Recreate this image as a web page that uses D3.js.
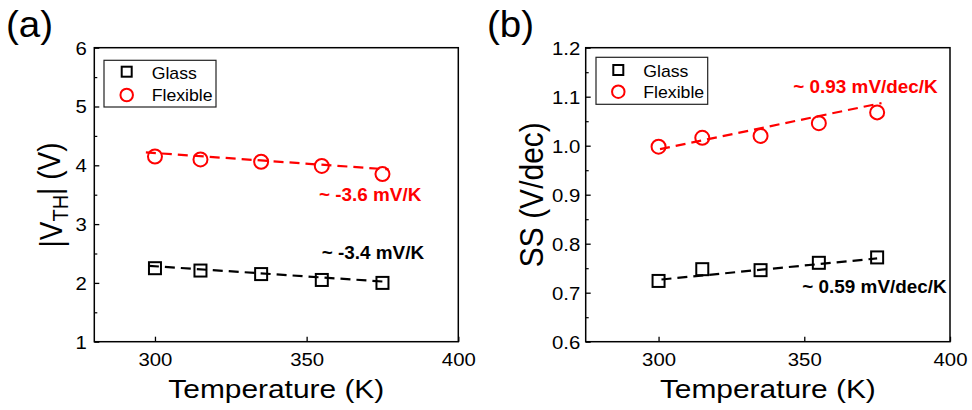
<!DOCTYPE html>
<html><head><meta charset="utf-8">
<script src="https://cdn.jsdelivr.net/npm/d3@7"></script>
<style>
body{margin:0;background:#fff;}
svg{display:block;font-family:"Liberation Sans",Arial,Helvetica,sans-serif;}
</style>
</head><body>
<svg id="c" width="972" height="410"></svg>
<script>
// ---------------- data ----------------
const temps = [300, 315, 335, 355, 375];
const vthGlass = [2.25, 2.21, 2.15, 2.05, 2.00];
const vthFlex  = [4.15, 4.10, 4.06, 3.99, 3.85];
const ssGlass  = [0.724, 0.748, 0.746, 0.761, 0.772];
const ssFlex   = [0.998, 1.016, 1.020, 1.046, 1.068];
// linear-fit segments [temperature, value]
const fitVthGlass = [[298, 2.29], [376, 2.02]];
const fitVthFlex  = [[297, 4.22], [377, 3.93]];
const fitSsGlass  = [[301, 0.727], [375, 0.770]];
const fitSsFlex   = [[300.5, 0.993], [376.5, 1.087]];
// ticks
const xTicks = [300, 350, 400];
const yTicksA = [1, 2, 3, 4, 5, 6];
const yMinorA = [1.5, 2.5, 3.5, 4.5, 5.5];
const yTicksB = [0.6, 0.7, 0.8, 0.9, 1.0, 1.1, 1.2];
const yMinorB = [0.65, 0.75, 0.85, 0.95, 1.05, 1.15];
// labels
const seriesNames = ["Glass", "Flexible"];
const slopeA = ["~ -3.4 mV/K", "~ -3.6 mV/K"];
const slopeB = ["~ 0.59 mV/dec/K", "~ 0.93 mV/dec/K"];
const RED = "#ff0000";

// ---------------- drawing ----------------
const svg = d3.select("#c");

function txt(g, s, x, y, o) {
  o = o || {};
  const t = g.append("text")
    .attr("transform", `translate(${x},${y}) scale(${o.sx || 1},1)` + (o.rot ? ` rotate(${o.rot})` : ""))
    .attr("text-anchor", o.anchor || "start")
    .style("font-size", (o.size || 18) + "px")
    .style("font-weight", o.weight || "normal")
    .attr("fill", o.fill || "#000");
  if (s != null) t.text(s);
  return t;
}

function marker(g, type, cx, cy, size, color) {
  if (type === "square") {
    g.append("rect").attr("x", cx - size / 2).attr("y", cy - size / 2)
      .attr("width", size).attr("height", size)
      .attr("fill", "none").attr("stroke", color).attr("stroke-width", 2);
  } else {
    g.append("circle").attr("cx", cx).attr("cy", cy).attr("r", size / 2)
      .attr("fill", "none").attr("stroke", color).attr("stroke-width", 2);
  }
}

function panel(cfg) {
  const x = d3.scaleLinear().domain(cfg.xDomain).range([cfg.left, cfg.right]);
  const y = d3.scaleLinear().domain(cfg.yDomain).range([cfg.bottom, cfg.top]);
  const g = svg.append("g");

  // x axis
  const xa = g.append("g").attr("transform", `translate(0,${cfg.bottom})`)
    .call(d3.axisBottom(x).tickValues(xTicks).tickSizeInner(-5).tickSizeOuter(0).tickPadding(0));
  xa.attr("font-size", null).attr("font-family", null);
  xa.select(".domain").remove();
  xa.selectAll(".tick line").attr("stroke", "#000").attr("stroke-width", 1.3);
  xa.selectAll(".tick text").attr("y", 24).attr("dy", 0)
    .attr("transform", "scale(1.1,1)").style("font-size", "18.5px").attr("fill", "#000");

  // y axis (major)
  const ya = g.append("g").attr("transform", `translate(${cfg.left},0)`)
    .call(d3.axisLeft(y).tickValues(cfg.yTicks).tickFormat(d3.format(cfg.yFmt))
      .tickSizeInner(-5).tickSizeOuter(0).tickPadding(0));
  ya.attr("font-size", null).attr("font-family", null);
  ya.select(".domain").remove();
  ya.selectAll(".tick line").attr("stroke", "#000").attr("stroke-width", 1.3);
  ya.selectAll(".tick text").attr("x", -cfg.yLabGap / 1.1).attr("dy", "0.34em")
    .attr("transform", "scale(1.1,1)").style("font-size", "18.5px").attr("fill", "#000");
  // y axis (minor)
  const ym = g.append("g").attr("transform", `translate(${cfg.left},0)`)
    .call(d3.axisLeft(y).tickValues(cfg.yMinor).tickFormat("").tickSizeInner(-3).tickSizeOuter(0));
  ym.select(".domain").remove();
  ym.selectAll(".tick line").attr("stroke", "#000").attr("stroke-width", 1.2);

  // frame
  g.append("rect").attr("x", cfg.left).attr("y", cfg.top)
    .attr("width", cfg.right - cfg.left).attr("height", cfg.bottom - cfg.top)
    .attr("fill", "none").attr("stroke", "#000").attr("stroke-width", 1.5);

  // fits
  const line = d3.line().x(d => x(d[0])).y(d => y(d[1]));
  cfg.series.forEach(s => {
    g.append("path").attr("d", line(s.fit)).attr("fill", "none")
      .attr("stroke", s.color).attr("stroke-width", 2.2).attr("stroke-dasharray", "10,6");
  });
  // markers
  cfg.series.forEach(s => {
    temps.forEach((t, i) => marker(g, s.shape, x(t), y(s.values[i]), s.shape === "square" ? 12 : 14, s.color));
  });

  // legend
  const L = cfg.legend;
  g.append("rect").attr("x", L.x0).attr("y", L.y0).attr("width", L.x1 - L.x0).attr("height", L.y1 - L.y0)
    .attr("fill", "#fff").attr("stroke", "#222").attr("stroke-width", 1.2);
  cfg.series.forEach((s, i) => {
    marker(g, s.shape, L.mx, L.my[i], s.shape === "square" ? 10 : 12.5, s.color);
    txt(g, seriesNames[i], L.tx, L.ty[i], {size: 17, sx: 1.04});
  });

  // slope annotations
  cfg.series.forEach((s, i) => {
    txt(g, cfg.slopes[i], cfg.annot[i][0], cfg.annot[i][1],
      {size: 17.5, sx: 1.08, weight: "bold", fill: s.color});
  });

  // axis titles
  txt(g, "Temperature (K)", (cfg.left + cfg.right) / 2, 398, {size: 26, sx: 1.15, anchor: "middle"});
  cfg.yTitle(g);
  // panel label
  txt(g, cfg.label, cfg.labelX, 37, {size: 36, sx: 1.07});
}

panel({
  left: 94.3, right: 458.3, top: 47.7, bottom: 341.7,
  xDomain: [280, 400], yDomain: [1, 6],
  yTicks: yTicksA, yMinor: yMinorA, yFmt: "d", yLabGap: 7.5,
  series: [
    {shape: "square", color: "#000", values: vthGlass, fit: fitVthGlass},
    {shape: "circle", color: RED, values: vthFlex, fit: fitVthFlex}
  ],
  legend: {x0: 104, x1: 216, y0: 60.3, y1: 107, mx: 126.7, my: [71.7, 95], tx: 151.7, ty: [79, 101]},
  slopes: slopeA,
  annot: [[321.7, 259.3], [319, 201]],
  label: "(a)", labelX: 6,
  yTitle: g => {
    const t = txt(g, null, 62, 195, {size: 28, sx: 1.12, rot: -90, anchor: "middle"});
    t.append("tspan").text("|V");
    t.append("tspan").text("TH").attr("dy", "0.25em").style("font-size", "20px");
    t.append("tspan").text("| (V)").attr("dy", "-0.25em").style("font-size", "28px");
  }
});

panel({
  left: 585.7, right: 950, top: 47.7, bottom: 341.7,
  xDomain: [275, 400], yDomain: [0.6, 1.2],
  yTicks: yTicksB, yMinor: yMinorB, yFmt: ".1f", yLabGap: 5.5,
  series: [
    {shape: "square", color: "#000", values: ssGlass, fit: fitSsGlass},
    {shape: "circle", color: RED, values: ssFlex, fit: fitSsFlex}
  ],
  legend: {x0: 596, x1: 707.7, y0: 57.3, y1: 104.3, mx: 618.3, my: [70, 91.7], tx: 643.3, ty: [76.5, 98]},
  slopes: slopeB,
  annot: [[802.3, 292.7], [793.3, 92.7]],
  label: "(b)", labelX: 487,
  yTitle: g => {
    txt(g, "SS (V/dec)", 543, 194.7, {size: 30, sx: 1.12, rot: -90, anchor: "middle"});
  }
});
</script>
</body></html>
